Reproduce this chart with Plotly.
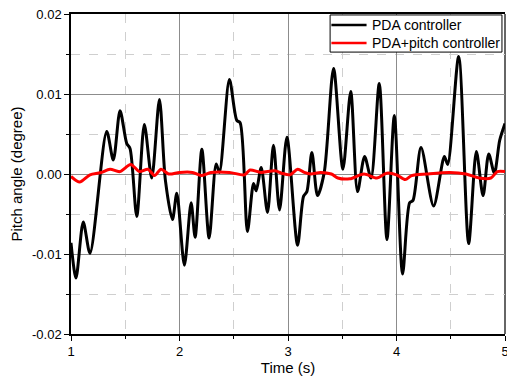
import plotly.graph_objects as go

# PDA controller (black)
t_pda = [1.0, 1.046, 1.113, 1.175, 1.329, 1.39, 1.452, 1.514, 1.544, 1.606, 1.676, 1.744, 1.815,
         1.87, 1.935, 1.975, 2.045, 2.107, 2.144, 2.206, 2.273, 2.338, 2.368, 2.46, 2.528, 2.559,
         2.626, 2.682, 2.707, 2.753, 2.811, 2.866, 2.922, 2.99, 3.088, 3.143, 3.174, 3.22, 3.272,
         3.334, 3.42, 3.506, 3.578, 3.641, 3.706, 3.765, 3.841, 3.912, 3.98, 4.056, 4.121, 4.152,
         4.226, 4.342, 4.441, 4.472, 4.573, 4.665, 4.736, 4.798, 4.85, 4.902, 4.951, 5.0]
y_pda = [-0.0086, -0.0130, -0.0060, -0.0099, 0.0053, 0.00175, 0.0079, 0.0038, 0.0032, -0.0053,
         0.0062, -0.0005, 0.0093, -0.0008, -0.0057, -0.0024, -0.0114, -0.0036, -0.0079, 0.0031,
         -0.0080, 0.00125, 0.0002, 0.0118, 0.0067, 0.0064, -0.0072, -0.0012, -0.0021, 0.0008,
         -0.0048, 0.0036, -0.0045, 0.0046, -0.0089, -0.0028, -0.0022, 0.0027, -0.0027, 0.0002,
         0.0132, 0.0006, 0.0103, -0.0022, 0.0022, -0.0005, 0.0113, -0.0082, 0.0073, -0.0125,
         -0.0036, -0.0033, 0.0033, -0.0040, 0.0022, 0.0012, 0.0147, -0.0087, 0.0028, -0.0027,
         0.0025, 0.0001, 0.0042, 0.0063]

# PDA+pitch controller (red)
t_pitch = [1.0, 1.08, 1.175, 1.27, 1.36, 1.45, 1.55, 1.63, 1.71, 1.77, 1.83, 1.9, 2.0, 2.12,
           2.2, 2.29, 2.46, 2.6, 2.65, 2.75, 2.88, 2.94, 3.02, 3.09, 3.15, 3.21, 3.3, 3.4, 3.46,
           3.57, 3.70, 3.82, 3.91, 4.0, 4.08, 4.14, 4.28, 4.49, 4.64, 4.76, 4.87, 4.93, 5.0]
y_pitch = [-0.0003, -0.0010, -0.0001, 0.00015, 0.0006, 0.0003, 0.0012, 0.0003, 0.0006, -0.0002,
           0.0006, 0.0, 0.0002, 0.0002, -0.0002, 0.0002, 0.0002, -0.0001, 0.0005, 0.0002, 0.0004,
           0.0001, -0.0001, 0.0006, 0.0002, 0.0, 0.0002, 0.0, -0.0005, -0.0006, 0.0, -0.0005,
           0.0001, -0.0001, -0.0007, -0.0002, 0.0, 0.0002, 0.0, -0.0005, -0.0005, 0.0003, 0.0003]

series_names = ["PDA controller", "PDA+pitch controller"]
series_colors = ["black", "#ff0000"]

x_ticks = [1, 2, 3, 4, 5]
y_ticks = [-0.02, -0.01, 0.0, 0.01, 0.02]
y_tick_labels = ["-0.02", "-0.01", "0.00", "0.01", "0.02"]

fig = go.Figure()
fig.add_trace(go.Scatter(x=t_pda, y=y_pda, mode="lines", name=series_names[0],
                         line=dict(color=series_colors[0], width=3, shape="spline", smoothing=0.8)))
fig.add_trace(go.Scatter(x=t_pitch, y=y_pitch, mode="lines", name=series_names[1],
                         line=dict(color=series_colors[1], width=3, shape="spline", smoothing=0.8)))

# custom compact legend (paper coordinates)
box = dict(x0=0.597, x1=0.993, y0=0.881, y1=0.997)
rows_y = [0.966, 0.909]
shapes = [
    dict(type="rect", xref="paper", yref="paper", **box,
         line=dict(color="black", width=1), fillcolor="white", layer="above"),
    dict(type="line", xref="paper", yref="paper", x0=1, x1=1, y0=0, y1=1,
         line=dict(color="#666666", width=2), layer="below"),
]
annotations = []
for name, col, yy in zip(series_names, series_colors, rows_y):
    shapes.append(dict(type="line", xref="paper", yref="paper", x0=0.600, x1=0.681, y0=yy, y1=yy,
                       line=dict(color=col, width=2.5), layer="above"))
    annotations.append(dict(xref="paper", yref="paper", x=0.689, y=yy, text=name, showarrow=False,
                            xanchor="left", yanchor="middle", font=dict(size=14, color="black")))

font = "Liberation Sans, Arial, sans-serif"
fig.update_layout(
    width=507, height=378,
    margin=dict(l=71, r=2, t=14, b=44, autoexpand=False),
    paper_bgcolor="white", plot_bgcolor="white",
    font=dict(family=font, size=13, color="black"),
    showlegend=False,
    xaxis=dict(range=[1, 5], tickvals=x_ticks, ticktext=[str(v) for v in x_ticks],
               ticklabeloverflow="allow", automargin=False,
               showline=True, linecolor="black", linewidth=1.5, mirror=True,
               ticks="outside", ticklen=5, tickcolor="black",
               showgrid=True, gridcolor="#8c8c8c", gridwidth=1, zeroline=False,
               minor=dict(dtick=0.5, tick0=1, showgrid=True, gridcolor="#cfcfcf",
                          griddash="dash", ticks="outside", ticklen=3, tickcolor="black"),
               title=dict(text="Time (s)", font=dict(size=15), standoff=0)),
    yaxis=dict(range=[-0.02, 0.02], tickvals=y_ticks, ticktext=y_tick_labels,
               automargin=False,
               showline=True, linecolor="black", linewidth=1.5, mirror=False,
               ticks="outside", ticklen=5, tickcolor="black",
               showgrid=True, gridcolor="#8c8c8c", gridwidth=1, zeroline=False,
               minor=dict(dtick=0.005, tick0=0, showgrid=True, gridcolor="#cfcfcf",
                          griddash="dash", ticks="outside", ticklen=3, tickcolor="black"),
               title=dict(text="Pitch angle (degree)", font=dict(size=15), standoff=6)),
    shapes=shapes,
    annotations=annotations,
)

fig.write_html("out.html")
